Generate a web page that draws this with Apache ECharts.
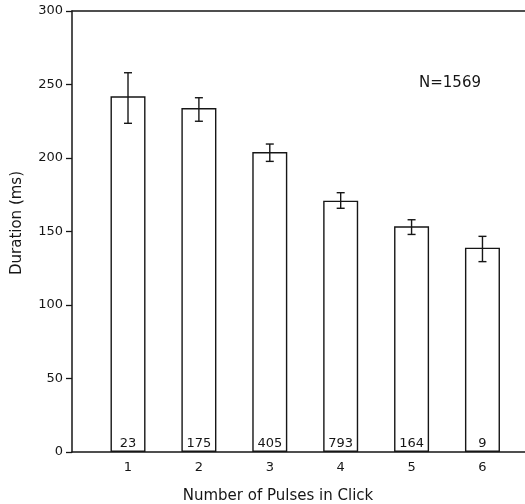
<!DOCTYPE html>
<html lang="en">
<head>
    <meta charset="utf-8">
    <script src="https://cdn.jsdelivr.net/npm/echarts@6/dist/echarts.min.js"></script>
    <style>
        html, body { margin: 0; padding: 0; background: #fff; }
    </style>
</head>
<body>
<div id="chart" style="width:525px; height:504px;"></div>
<script type="text/javascript">

    var pulses = [1, 2, 3, 4, 5, 6];
    var durations = [242, 234, 204, 171, 153.5, 139];
    var errLow = [223.6, 225, 197.7, 165.8, 148, 129.5];
    var errHigh = [258, 241, 209.5, 176.4, 158, 146.7];
    var counts = [23, 175, 405, 793, 164, 9];
    var yTicks = [0, 50, 100, 150, 200, 250, 300];

    var ink = '#161616';
    var font = 'DejaVu Sans';

    var barData = pulses.map(function (p, i) { return [p, durations[i]]; });
    var errData = pulses.map(function (p, i) { return [p, errLow[i], errHigh[i]]; });

    var myChart = echarts.init(document.getElementById('chart'));

    var option = {
        backgroundColor: '#fff',
        animation: false,
        grid: { left: 72, right: 0, top: 11, bottom: 52 },
        xAxis: [{
            type: 'value',
            min: 0.21,
            max: 6.6,
            splitLine: { show: false },
            axisLine: { show: true, lineStyle: { color: ink, width: 1.5 } },
            axisTick: { show: false, customValues: pulses },
            axisLabel: {
                customValues: pulses,
                color: ink, fontSize: 13, fontFamily: font, margin: 9
            }
        }, {
            type: 'value',
            position: 'top',
            min: 0.21,
            max: 6.6,
            splitLine: { show: false },
            axisLine: { show: true, lineStyle: { color: ink, width: 1.5 } },
            axisTick: { show: false },
            axisLabel: { show: false }
        }],
        yAxis: {
            type: 'value',
            min: yTicks[0],
            max: yTicks[yTicks.length - 1],
            interval: 50,
            splitLine: { show: false },
            axisLine: { show: true, lineStyle: { color: ink, width: 1.5 } },
            axisTick: { show: true, inside: false, length: 6, lineStyle: { color: ink, width: 1.3 } },
            axisLabel: { color: ink, fontSize: 13, fontFamily: font, margin: 9 }
        },
        graphic: [{
            type: 'text',
            x: 17, y: 223,
            rotation: Math.PI / 2,
            style: {
                text: 'Duration (ms)', fill: ink, fontSize: 15, fontFamily: font,
                align: 'center', verticalAlign: 'middle'
            }
        }, {
            type: 'text',
            x: 278, y: 496,
            style: {
                text: 'Number of Pulses in Click', fill: ink, fontSize: 15, fontFamily: font,
                align: 'center', verticalAlign: 'middle'
            }
        }, {
            type: 'text',
            x: 450, y: 83,
            style: {
                text: 'N=1569', fill: ink, fontSize: 15, fontFamily: font,
                align: 'center', verticalAlign: 'middle'
            }
        }],
        series: [{
            type: 'bar',
            data: barData,
            barWidth: 35,
            itemStyle: { color: '#fff', borderColor: ink, borderWidth: 1.4 },
            label: {
                show: true,
                position: 'insideBottom',
                distance: 2,
                color: ink, fontSize: 13, fontFamily: font,
                formatter: function (p) { return String(counts[p.dataIndex]); }
            }
        }, {
            type: 'custom',
            data: errData,
            z: 5,
            renderItem: function (params, api) {
                var x = api.value(0);
                var lo = api.coord([x, api.value(1)]);
                var hi = api.coord([x, api.value(2)]);
                var cap = 4;
                var st = { stroke: ink, lineWidth: 1.4 };
                return {
                    type: 'group',
                    children: [
                        { type: 'line', shape: { x1: lo[0], y1: lo[1], x2: hi[0], y2: hi[1] }, style: st },
                        { type: 'line', shape: { x1: lo[0] - cap, y1: lo[1], x2: lo[0] + cap, y2: lo[1] }, style: st },
                        { type: 'line', shape: { x1: hi[0] - cap, y1: hi[1], x2: hi[0] + cap, y2: hi[1] }, style: st }
                    ]
                };
            }
        }]
    };

    myChart.setOption(option);

</script>
</body>
</html>
